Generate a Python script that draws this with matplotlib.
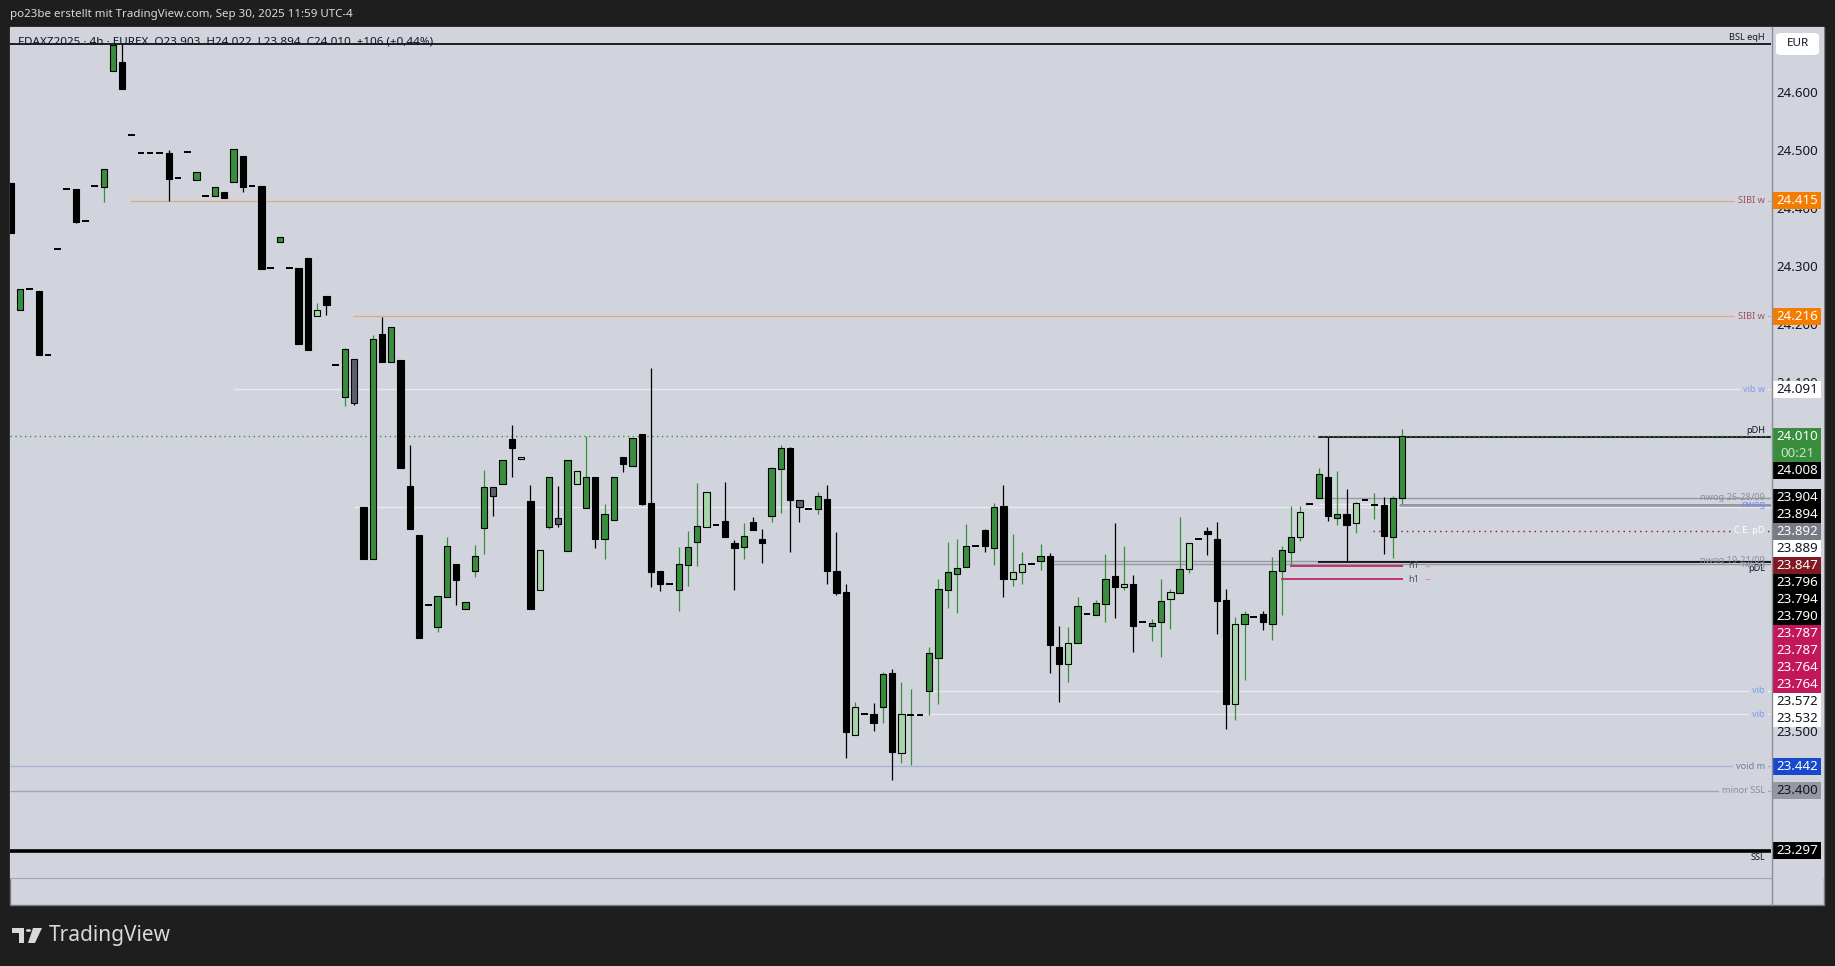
import matplotlib
matplotlib.use('Agg')
import matplotlib.pyplot as plt
from matplotlib.patches import Rectangle, Polygon, Circle, FancyBboxPatch
from matplotlib.transforms import blended_transform_factory

plt.rcParams['font.family'] = ['Noto Sans', 'DejaVu Sans']

# FDAXZ2025, 4h candles
opens = [24.445, 24.228, 24.263, 24.260, 24.149, 24.332, 24.435, 24.435, 24.380, 24.440,
         24.439, 24.639, 24.654, 24.528, 24.497, 24.497, 24.497, 24.497, 24.454, 24.499,
         24.450, 24.423, 24.423, 24.430, 24.448, 24.492, 24.441, 24.441, 24.299, 24.344,
         24.299, 24.299, 24.316, 24.217, 24.251, 24.132, 24.077, 24.142, 23.888, 23.799,
         24.186, 24.138, 24.141, 23.924, 23.840, 23.719, 23.682, 23.734, 23.790, 23.713,
         23.778, 23.852, 23.922, 23.927, 24.005, 23.970, 23.899, 23.746, 23.853, 23.869,
         23.813, 23.927, 23.887, 23.939, 23.834, 23.866, 23.974, 23.959, 24.013, 23.895,
         23.778, 23.755, 23.745, 23.789, 23.828, 23.854, 23.857, 23.864, 23.826, 23.819,
         23.862, 23.833, 23.873, 23.954, 23.989, 23.900, 23.884, 23.884, 23.902, 23.779,
         23.742, 23.496, 23.532, 23.532, 23.544, 23.602, 23.465, 23.530, 23.530, 23.571,
         23.628, 23.746, 23.773, 23.785, 23.822, 23.848, 23.817, 23.890, 23.764, 23.776,
         23.790, 23.795, 23.804, 23.647, 23.619, 23.654, 23.704, 23.702, 23.721, 23.769,
         23.750, 23.755, 23.690, 23.683, 23.690, 23.730, 23.740, 23.781, 23.834, 23.847,
         23.834, 23.728, 23.550, 23.687, 23.699, 23.705, 23.687, 23.778, 23.810, 23.836,
         23.893, 23.903, 23.939, 23.870, 23.876, 23.861, 23.900, 23.891, 23.891, 23.837,
         23.903]
highs = [24.445, 24.263, 24.263, 24.260, 24.149, 24.332, 24.435, 24.435, 24.380, 24.440,
         24.469, 24.684, 24.684, 24.528, 24.497, 24.497, 24.497, 24.502, 24.454, 24.499,
         24.464, 24.423, 24.438, 24.430, 24.504, 24.492, 24.441, 24.441, 24.299, 24.352,
         24.299, 24.299, 24.316, 24.239, 24.251, 24.132, 24.161, 24.142, 23.888, 24.184,
         24.215, 24.198, 24.141, 23.995, 23.840, 23.719, 23.735, 23.837, 23.790, 23.725,
         23.823, 23.952, 23.922, 23.969, 24.029, 23.974, 23.926, 23.814, 23.939, 23.924,
         23.969, 23.951, 24.010, 23.939, 23.893, 23.939, 23.974, 24.007, 24.013, 24.127,
         23.778, 23.755, 23.820, 23.847, 23.930, 23.914, 23.857, 23.931, 23.831, 23.861,
         23.871, 23.850, 23.957, 23.995, 23.992, 23.900, 23.884, 23.914, 23.926, 23.845,
         23.756, 23.553, 23.532, 23.551, 23.605, 23.610, 23.587, 23.575, 23.530, 23.647,
         23.764, 23.828, 23.833, 23.859, 23.822, 23.850, 23.895, 23.926, 23.841, 23.810,
         23.790, 23.824, 23.809, 23.683, 23.681, 23.733, 23.704, 23.728, 23.807, 23.860,
         23.822, 23.771, 23.690, 23.695, 23.764, 23.748, 23.871, 23.826, 23.834, 23.854,
         23.863, 23.747, 23.699, 23.709, 23.699, 23.709, 23.802, 23.822, 23.890, 23.890,
         23.893, 23.955, 24.008, 23.950, 23.919, 23.897, 23.900, 23.912, 23.906, 23.908,
         24.022]
lows = [24.360, 24.228, 24.263, 24.149, 24.149, 24.332, 24.435, 24.376, 24.380, 24.440,
        24.413, 24.639, 24.608, 24.528, 24.497, 24.497, 24.497, 24.415, 24.454, 24.499,
        24.450, 24.423, 24.423, 24.420, 24.448, 24.431, 24.441, 24.298, 24.299, 24.344,
        24.299, 24.169, 24.159, 24.217, 24.219, 24.132, 24.062, 24.064, 23.799, 23.799,
        24.138, 24.138, 23.956, 23.850, 23.663, 23.719, 23.673, 23.734, 23.720, 23.713,
        23.768, 23.808, 23.872, 23.927, 23.940, 23.970, 23.712, 23.746, 23.851, 23.853,
        23.813, 23.927, 23.887, 23.818, 23.799, 23.866, 23.949, 23.959, 23.891, 23.750,
        23.743, 23.755, 23.710, 23.753, 23.786, 23.854, 23.857, 23.836, 23.746, 23.798,
        23.849, 23.792, 23.863, 23.878, 23.811, 23.863, 23.884, 23.877, 23.756, 23.736,
        23.457, 23.496, 23.532, 23.503, 23.516, 23.419, 23.447, 23.445, 23.530, 23.531,
        23.550, 23.715, 23.706, 23.785, 23.822, 23.810, 23.789, 23.734, 23.753, 23.756,
        23.790, 23.780, 23.602, 23.553, 23.588, 23.654, 23.704, 23.702, 23.691, 23.698,
        23.746, 23.638, 23.690, 23.657, 23.631, 23.678, 23.740, 23.774, 23.834, 23.806,
        23.669, 23.507, 23.521, 23.590, 23.699, 23.676, 23.660, 23.703, 23.786, 23.830,
        23.893, 23.903, 23.865, 23.858, 23.794, 23.844, 23.900, 23.868, 23.808, 23.801,
        23.894]
closes = [24.360, 24.263, 24.263, 24.149, 24.149, 24.332, 24.435, 24.379, 24.380, 24.440,
          24.469, 24.683, 24.608, 24.528, 24.497, 24.497, 24.497, 24.453, 24.454, 24.499,
          24.464, 24.423, 24.438, 24.420, 24.504, 24.439, 24.441, 24.298, 24.299, 24.352,
          24.299, 24.169, 24.159, 24.228, 24.235, 24.132, 24.160, 24.068, 23.799, 24.177,
          24.138, 24.198, 23.956, 23.850, 23.663, 23.719, 23.735, 23.821, 23.763, 23.725,
          23.804, 23.922, 23.908, 23.969, 23.989, 23.974, 23.712, 23.814, 23.939, 23.859,
          23.969, 23.951, 23.939, 23.834, 23.877, 23.939, 23.963, 24.007, 23.894, 23.777,
          23.755, 23.755, 23.790, 23.819, 23.855, 23.914, 23.857, 23.836, 23.818, 23.838,
          23.849, 23.827, 23.955, 23.989, 23.901, 23.889, 23.884, 23.907, 23.779, 23.741,
          23.502, 23.544, 23.532, 23.517, 23.601, 23.466, 23.532, 23.530, 23.530, 23.637,
          23.747, 23.776, 23.783, 23.822, 23.822, 23.822, 23.888, 23.765, 23.776, 23.791,
          23.790, 23.804, 23.650, 23.619, 23.654, 23.718, 23.704, 23.723, 23.764, 23.751,
          23.755, 23.684, 23.690, 23.688, 23.726, 23.742, 23.781, 23.826, 23.834, 23.841,
          23.727, 23.550, 23.687, 23.704, 23.699, 23.690, 23.779, 23.814, 23.836, 23.879,
          23.893, 23.945, 23.872, 23.877, 23.858, 23.895, 23.900, 23.891, 23.839, 23.903,
          24.010]
# bar colouring: g green, l light green, b black, y grey
kinds = ("bgbbbbbbbb" "ggbbbbbbbb" "gbgbgbbbbg" "bbblbbgybg" "bgbbbbggbg"
         "ggygblblgy" "glgbggbgbb" "bbggglbbbg" "bbggbybgbb" "blbbgblgbg"
         "ggggbbgbll" "bgbblgbggb" "lbbgglglbb" "bblgbbgggl" "bgbgblbgbg" "g")

# drawn levels: price, bar where the line starts, label
lvl_prices = [24.684, 24.415, 24.216, 24.091, 24.008, 23.904, 23.894, 23.892, 23.889,
              23.847, 23.796, 23.794, 23.790, 23.787, 23.764, 23.572, 23.532,
              23.442, 23.400, 23.297]
lvl_start = [-1, 12.8, 36.9, 23.9, 140.9, 141.0, 141.0, 149.7, 37.0,
             146.8, 112.3, 140.9, 112.3, 137.9, 136.9, 98.5, 95.8,
             -1, -1, -1]
lvl_text = ['BSL eqH', 'SIBI w', 'SIBI w', 'vib w', 'pDH', 'nwog 26-28/09', '', 'nwog', '',
            'C.E. pD', 'nwog 19-21/09', 'pDL', 'nwog', 'h1', 'h1', 'vib', 'vib',
            'void m', 'minor SSL', 'SSL']
last_price = 24.010
countdown = '00:21'

# price scale labels on the right
tag_prices = [24.415, 24.216, 24.091, 24.010, 24.008, 23.904, 23.894, 23.892, 23.889,
              23.847, 23.796, 23.794, 23.790, 23.787, 23.787, 23.764, 23.764,
              23.572, 23.532, 23.442, 23.400, 23.297]
tag_bg = ['#f57c00', '#f57c00', '#ffffff', '#388e3c', '#000000', '#000000', '#000000',
          '#787b86', '#ffffff', '#801922', '#000000', '#000000', '#000000',
          '#c2185b', '#c2185b', '#c2185b', '#c2185b', '#ffffff', '#ffffff',
          '#1848cc', '#9598a1', '#000000']
tick_values = [23.3, 23.4, 23.5, 23.6, 23.7, 23.8, 23.9, 24.0, 24.1, 24.2, 24.3, 24.4, 24.5, 24.6]

W, H = 1835, 966
BG = '#d1d4dc'
fig = plt.figure(figsize=(W / 100, H / 100), dpi=100, facecolor='#1e1e1e')


def frect(x0, y0, x1, y1):
    return [x0 / W, 1 - y1 / H, (x1 - x0) / W, (y1 - y0) / H]


fig.add_artist(Rectangle((10 / W, 1 - 905 / H), 1814 / W, 878 / H, transform=fig.transFigure,
                         facecolor=BG, edgecolor='#787b86', lw=1, zorder=0))

ax = fig.add_axes(frect(10, 27, 1771, 878))
ax.set_facecolor(BG)
ymin, ymax = 23.250, 24.714
xl, xr = -0.108, 189.76
ax.set_ylim(ymin, ymax)
ax.set_xlim(xl, xr)
ax.set_xticks([])
ax.set_yticks([])
for s in ['top', 'left', 'right']:
    ax.spines[s].set_visible(False)
ax.spines['bottom'].set_color('#a3a6af')

# candles
for i in range(len(opens)):
    o, h, l, c, k = opens[i], highs[i], lows[i], closes[i], kinds[i]
    wick = '#388e3c' if k in 'gl' else '#000000'
    ax.vlines(i, l, h, color=wick, lw=0.9, zorder=3)
    if o == c:
        ax.hlines(o, i - 0.36, i + 0.36, color='#000000', lw=1.4, zorder=4)
    else:
        face = {'g': '#388e3c', 'l': '#a5d6a7', 'b': '#000000', 'y': '#5d606b'}[k]
        lo, hi = min(o, c), max(o, c)
        ax.add_patch(Rectangle((i - 0.34, lo), 0.68, hi - lo, facecolor=face,
                               edgecolor='#000000', lw=0.8, zorder=4))

# levels
line_style = {
    'BSL eqH': dict(color='#000000', lw=1.2),
    'SIBI w': dict(color='#e6a77e', lw=0.9),
    'vib w': dict(color='#e9ebf0', lw=1.0),
    'vib': dict(color='#e9ebf0', lw=1.0),
    'pDH': dict(color='#000000', lw=1.2),
    'pDL': dict(color='#000000', lw=1.2),
    'nwog 26-28/09': dict(color='#9598a1', lw=1.0),
    'nwog 19-21/09': dict(color='#9598a1', lw=1.0),
    'nwog': dict(color='#9598a1', lw=1.0),
    'C.E. pD': dict(color='#801922', lw=1.0, linestyle=(0, (1, 3))),
    'h1': dict(color='#c2185b', lw=1.2),
    'void m': dict(color='#a9b1dd', lw=1.0),
    'minor SSL': dict(color='#a3a6af', lw=1.0),
    'SSL': dict(color='#000000', lw=2.6),
}
for p, st, t in zip(lvl_prices, lvl_start, lvl_text):
    x0 = xl if st < 0 else st
    x1 = 150.05 if t == 'h1' else xr
    style = dict(line_style.get(t, dict(color='#e9ebf0', lw=1.0)))
    if p == 23.892:
        style = dict(color='#9598a1', lw=2.2)
    ax.hlines(p, x0, x1, zorder=2, **style)

ax.hlines(last_price, xl, xr, color='#388e3c', lw=1.0, linestyle=(0, (1, 2.5)), zorder=2)

tr = blended_transform_factory(ax.transAxes, ax.transData)
xt = (1765 - 10) / 1761
label_color = {
    'BSL eqH': '#131722', 'SIBI w': '#9c4f5c', 'vib w': '#7a9cf0', 'vib': '#7a9cf0',
    'pDH': '#131722', 'pDL': '#131722', 'nwog 26-28/09': '#8b8e97',
    'nwog 19-21/09': '#8b8e97', 'C.E. pD': '#ffffff', 'void m': '#6f7ca3',
    'minor SSL': '#8a8d96', 'SSL': '#131722',
}
for p, t in zip(lvl_prices, lvl_text):
    if t == '' or t == 'h1':
        continue
    col = label_color.get(t, '#8b8e97')
    kw = dict(transform=tr, ha='right', fontsize=6.6, color=col, zorder=6)
    if t in ('BSL eqH', 'pDH'):
        ax.text(xt, p + 0.004, t, va='bottom', **kw)
    elif t in ('pDL', 'SSL'):
        ax.text(xt, p - 0.004, t, va='top', **kw)
    elif t == 'nwog' and p > 23.85:
        ax.text(xt, p, t, va='center', color='#6b8ef0', fontsize=6.6,
                fontweight='bold', transform=tr, ha='right', zorder=6)
    elif t.startswith('nwog'):
        ax.text(xt, p, t, va='center', **kw)
    else:
        bw = 'bold' if t == 'C.E. pD' else 'normal'
        ax.text(xt, p, t, va='center', fontweight=bw,
                bbox=dict(boxstyle='square,pad=0.35', facecolor=BG, edgecolor='none'), **kw)

for p, t in zip(lvl_prices, lvl_text):
    if t == 'h1':
        ax.text(150.6, p, 'h1', ha='left', va='center', fontsize=6.6, color='#50535e', zorder=6)
        ax.hlines(p, 152.5, 153.0, color='#e48aa8', lw=0.8, zorder=6)

# header texts
fig.text(10 / W, 1 - 14.3 / H, 'po23be erstellt mit TradingView.com, Sep 30, 2025 11:59 UTC-4',
         color='#d9d9d9', fontsize=8.3, va='center', ha='left')
fig.text(18 / W, 1 - 41.5 / H,
         'FDAXZ2025 · 4h · EUREX  O23.903  H24.022  L23.894  C24.010  +106 (+0,44%)',
         color='#131722', fontsize=8.4, va='center', ha='left', zorder=10)

# price scale
pax = fig.add_axes(frect(1771, 27, 1824, 878))
pax.set_facecolor(BG)
pax.set_ylim(ymin, ymax)
pax.set_xlim(0, 1)
pax.set_xticks([])
pax.set_yticks([])
for s in ['top', 'right', 'bottom', 'left']:
    pax.spines[s].set_visible(False)
fig.add_artist(plt.Line2D([1771.5 / W, 1771.5 / W], [1 - 27 / H, 1 - 905 / H],
                          transform=fig.transFigure, color='#8a8d96', lw=1))

for v in tick_values:
    pax.text(0.49, v, f'{v:.3f}', ha='center', va='center', fontsize=9.6,
             color='#131722', zorder=1)

hgt = 17 / 581.3
prev_bottom = 99.0
for p, bg in zip(tag_prices, tag_bg):
    n = 2 if p == last_price else 1
    top = min(p + hgt / 2, prev_bottom)
    center = top - hgt / 2
    prev_bottom = top - n * hgt
    pax.add_patch(Rectangle((0.013, prev_bottom), 0.925, n * hgt, facecolor=bg,
                            edgecolor='none', zorder=3))
    dark_text = bg in ('#ffffff', '#9598a1')
    fg = '#131722' if dark_text else '#ffffff'
    fw = 'normal' if dark_text else 'bold'
    pax.text(0.49, center, f'{p:.3f}', ha='center', va='center', fontsize=9.6,
             color=fg, fontweight=fw, zorder=4)
    if n == 2:
        pax.text(0.49, center - hgt, countdown, ha='center', va='center', fontsize=9.6,
                 color='#c8e6c9', fontweight='bold', zorder=4)

# currency box
fig.add_artist(FancyBboxPatch((1776 / W, 1 - 55 / H), 43 / W, 22 / H,
                              boxstyle='round,pad=0,rounding_size=0.003',
                              transform=fig.transFigure, facecolor='#ffffff',
                              edgecolor='none', zorder=5))
fig.text(1797.5 / W, 1 - 44 / H, 'EUR', ha='center', va='center', fontsize=8.4,
         color='#131722', zorder=6)

# TradingView logo
lc = '#d9d9d9'
fig.add_artist(Polygon([(12 / W, 1 - 928 / H), (24 / W, 1 - 928 / H), (24 / W, 1 - 943 / H),
                        (18.5 / W, 1 - 943 / H), (18.5 / W, 1 - 933 / H), (12 / W, 1 - 933 / H)],
                       closed=True, transform=fig.transFigure, facecolor=lc, edgecolor='none'))
fig.add_artist(Circle((28.5 / W, 1 - 930.5 / H), 2.6 / W, transform=fig.transFigure,
                      facecolor=lc, edgecolor='none'))
fig.add_artist(Polygon([(33 / W, 1 - 928 / H), (42 / W, 1 - 928 / H), (35 / W, 1 - 943 / H),
                        (28 / W, 1 - 943 / H)], closed=True, transform=fig.transFigure,
                       facecolor=lc, edgecolor='none'))
fig.text(49 / W, 1 - 936 / H, 'TradingView', ha='left', va='center', fontsize=15,
         fontweight='bold', color=lc)

fig.savefig('out.png', dpi=100, facecolor=fig.get_facecolor())
